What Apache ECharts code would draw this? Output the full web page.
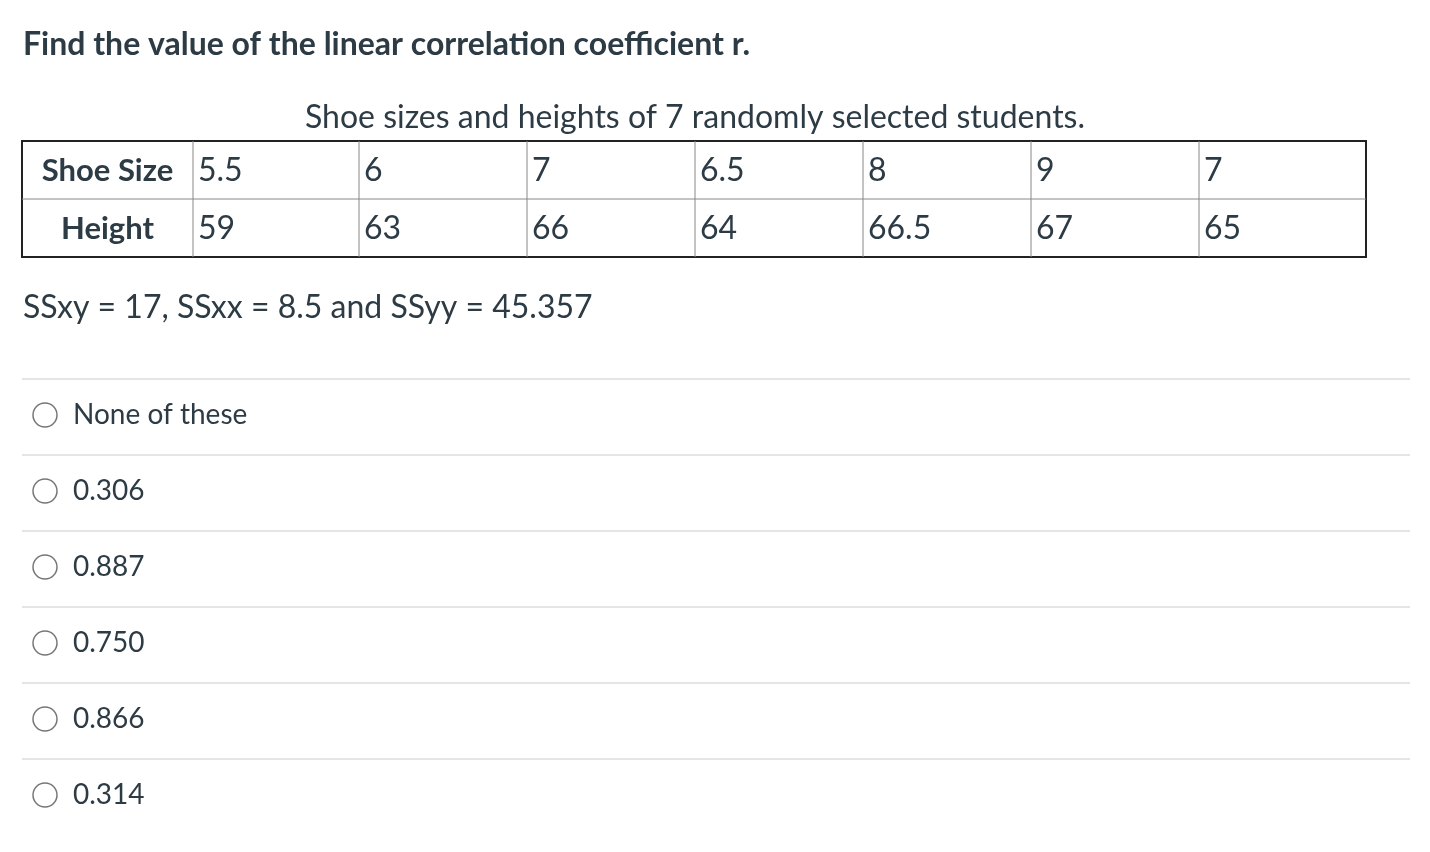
<!DOCTYPE html>
<html><head><meta charset="utf-8">
<script src="https://cdn.jsdelivr.net/npm/echarts@6/dist/echarts.min.js"></script>
<style>html,body{margin:0;padding:0;background:#fff}#c{width:1430px;height:852px}</style>
</head><body><div id="c"></div>
<script>
const title = "Find the value of the linear correlation coefficient r.";
const caption = "Shoe sizes and heights of 7 randomly selected students.";
const rowLabels = ["Shoe Size", "Height"];
const shoeSizes = ["5.5", "6", "7", "6.5", "8", "9", "7"];
const heights = ["59", "63", "66", "64", "66.5", "67", "65"];
const sumsText = "SSxy = 17, SSxx = 8.5 and SSyy = 45.357";
const choices = ["None of these", "0.306", "0.887", "0.750", "0.866", "0.314"];

const F = "Lato, 'Noto Sans', sans-serif";
const C = "#2d3b45";
const g = [];
const txt = (x, y, s, o) => g.push(Object.assign({type:'text', x, y, style:Object.assign({text:s, fill:C, font:'28px '+F, textVerticalAlign:'middle'}, o||{})}));
const line = (x1,y1,x2,y2,stroke,w) => g.push({type:'line', shape:{x1,y1,x2,y2}, style:{stroke, lineWidth:w||1}});

txt(23, 45, title, {font:'bold 32px '+F});
txt(695, 118, caption, {font:'32px '+F, textAlign:'center'});

const colX = [22, 193, 359, 527, 695, 863, 1031, 1199, 1366];
const rowY = [141, 199, 257];
g.push({type:'rect', shape:{x:22, y:141, width:1344, height:116}, style:{fill:'none', stroke:'#222', lineWidth:2}});
line(22, 199, 1366, 199, '#888', 1);
for (let i = 1; i < colX.length - 1; i++) line(colX[i], 141, colX[i], 257, '#888', 1);
[shoeSizes, heights].forEach((row, r) => {
  const cy = (rowY[r] + rowY[r+1]) / 2 + 1;
  txt((colX[0]+colX[1])/2, cy, rowLabels[r], {font:'bold 31px '+F, textAlign:'center'});
  row.forEach((v, i) => txt(colX[i+1] + 5, cy, v, {font:'32px '+F}));
});

txt(23, 308, sumsText, {font:'32px '+F});

choices.forEach((c, i) => {
  const top = 379 + i * 76;
  line(22, top, 1410, top, '#dcdcdc', 1.5);
  const cy = top + 36;
  g.push({type:'circle', shape:{cx:45, cy, r:12}, style:{fill:'#fff', stroke:'#777', lineWidth:1.5}});
  txt(73, cy, c, {font:'28px '+F});
});

const chart = echarts.init(document.getElementById('c'));
chart.setOption({animation:false, graphic:g});
</script></body></html>
